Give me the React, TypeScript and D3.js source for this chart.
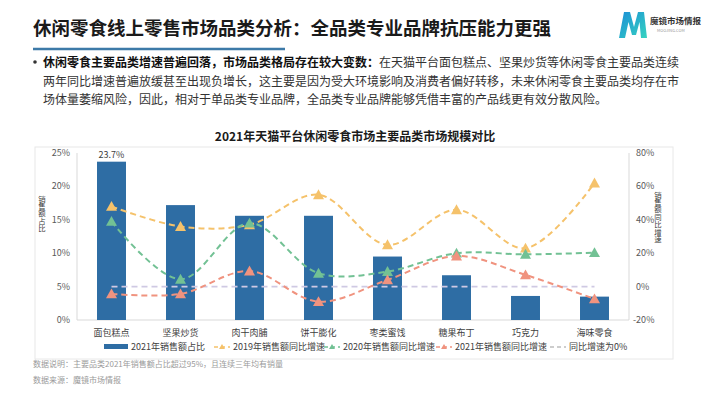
import React from "react";
import * as d3 from "d3";

// chart values
const categories = ["面包糕点", "坚果炒货", "肉干肉脯", "饼干膨化", "枣类蜜饯", "糖果布丁", "巧克力", "海味零食"];
const share2021 = [23.7, 17.2, 15.6, 15.6, 9.5, 6.7, 3.6, 3.5];
const growth2019 = [48, 36, 37, 55, 25, 46, 23, 62];
const growth2020 = [39, 4.4, 38, 8, 9, 20, 19.3, 20.3];
const growth2021 = [-4.4, -4.4, 9.3, -9, 4, 18.3, 7, -7.4];
const leftTicks = [0, 5, 10, 15, 20, 25];
const rightTicks = [-20, 0, 20, 40, 60, 80];

const lineSeries = [
  { name: "2019年销售额同比增速", values: growth2019, color: "#f5c26b" },
  { name: "2020年销售额同比增速", values: growth2020, color: "#72c194" },
  { name: "2021年销售额同比增速", values: growth2021, color: "#f0937f" },
];

const FONT = "'Noto Sans CJK SC', 'Noto Sans', sans-serif";

function Triangle({ x, y, color }: { x: number; y: number; color: string }) {
  const s = 5.5;
  return <path d={`M${x},${y - s}L${x + s},${y + s * 0.8}L${x - s},${y + s * 0.8}Z`} fill={color} />;
}

// upright vertical label, one text element
function VerticalLabel({ x, y, label }: { x: number; y: number; label: string }) {
  return (
    <text
      x={x}
      y={y}
      fontSize={7.4}
      fill="#404040"
      style={{ writingMode: "vertical-rl", textOrientation: "upright" } as any}
    >
      {label}
    </text>
  );
}

export default function App() {
  const width = 710;
  const height = 399;
  const plot = { left: 77, right: 629, top: 153, bottom: 320 };

  const x = d3.scaleBand().domain(categories).range([plot.left, plot.right]).paddingInner(0.58).paddingOuter(0.29);
  const yL = d3.scaleLinear().domain([0, 25]).range([plot.bottom, plot.top]);
  const yR = d3.scaleLinear().domain([-20, 80]).range([plot.bottom, plot.top]);
  const cx = (c: string) => (x(c) as number) + x.bandwidth() / 2;

  const line = d3
    .line<number>()
    .x((_, i) => cx(categories[i]))
    .y((d) => yR(d))
    .curve(d3.curveCatmullRom.alpha(0.5));

  // legend layout
  const legendY = 347;
  const legendItems = [
    { kind: "bar", name: "2021年销售额占比", x: 104, color: "#2e6da4" },
    { kind: "line", name: lineSeries[0].name, x: 214, color: lineSeries[0].color },
    { kind: "line", name: lineSeries[1].name, x: 324, color: lineSeries[1].color },
    { kind: "line", name: lineSeries[2].name, x: 436, color: lineSeries[2].color },
    { kind: "zero", name: "同比增速为0%", x: 550, color: "#cfc9e3" },
  ];

  return (
    <svg
      width={width}
      height={height}
      style={{ position: "absolute", left: 0, top: 0, background: "#fff" }}
      fontFamily={FONT}
    >
      <defs>
        <linearGradient id="logoGrad" x1="0" y1="0" x2="1" y2="1">
          <stop offset="0%" stopColor="#1b8fd6" />
          <stop offset="100%" stopColor="#36d3c0" />
        </linearGradient>
      </defs>

      {/* header */}
      <text x={33} y={35} fontSize={18.5} fontWeight={700} fill="#1a1a1a">
        休闲零食线上零售市场品类分析：全品类专业品牌抗压能力更强
      </text>
      <line x1={33} x2={285} y1={49} y2={49} stroke="#3d7aa8" strokeWidth={2.5} />

      {/* logo */}
      <path
        d="M619,38 L624,12 L630,12 L634,27 L638,12 L644,12 L647,38 L641,38 L639.5,22 L636,35 L632,35 L628.5,22 L625,38 Z"
        fill="url(#logoGrad)"
      />
      <text x={650} y={24} fontSize={8.5} fontWeight={700} fill="#333">魔镜市场情报</text>
      <text x={657} y={32} fontSize={4} fill="#999">MOOJING.COM</text>

      {/* bullet text */}
      <circle cx={35} cy={62} r={1.8} fill="#333" />
      <text x={43} y={67} fontSize={12} fill="#333">
        <tspan fontWeight={700} fill="#111">休闲零食主要品类增速普遍回落，市场品类格局存在较大变数：</tspan>
        在天猫平台面包糕点、坚果炒货等休闲零食主要品类连续
      </text>
      <text x={43} y={86} fontSize={12} fill="#333">
        两年同比增速普遍放缓甚至出现负增长，这主要是因为受大环境影响及消费者偏好转移，未来休闲零食主要品类均存在市
      </text>
      <text x={43} y={104} fontSize={12} fill="#333">
        场体量萎缩风险，因此，相对于单品类专业品牌，全品类专业品牌能够凭借丰富的产品线更有效分散风险。
      </text>

      {/* chart frame */}
      <rect x={35} y={147} width={638} height={212} fill="none" stroke="#e8e8e8" strokeWidth={1} />
      <text x={355} y={141} fontSize={12} fontWeight={700} fill="#1a1a1a" textAnchor="middle">
        2021年天猫平台休闲零食市场主要品类市场规模对比
      </text>

      {/* axes */}
      <line x1={plot.left} x2={plot.left} y1={plot.top} y2={plot.bottom} stroke="#d9d9d9" />
      <line x1={plot.right} x2={plot.right} y1={plot.top} y2={plot.bottom} stroke="#d9d9d9" />
      <line x1={plot.left} x2={plot.right} y1={plot.bottom} y2={plot.bottom} stroke="#d9d9d9" />
      {leftTicks.map((t) => (
        <text key={"l" + t} x={70} y={yL(t) + 3} fontSize={9} fill="#595959" textAnchor="end">
          {t}%
        </text>
      ))}
      {rightTicks.map((t) => (
        <text key={"r" + t} x={t < 0 ? 633 : 636} y={yR(t) + 3} fontSize={9} fill="#595959">
          {t}%
        </text>
      ))}
      <VerticalLabel x={42} y={195} label="销售额占比" />
      <VerticalLabel x={658} y={191} label="销售额同比增速" />
      {categories.map((c) => (
        <text key={"c" + c} x={cx(c)} y={336} fontSize={9} fill="#404040" textAnchor="middle">
          {c}
        </text>
      ))}

      {/* bars */}
      {categories.map((c, i) => (
        <rect
          key={"b" + c}
          x={x(c)}
          y={yL(share2021[i])}
          width={x.bandwidth()}
          height={plot.bottom - yL(share2021[i])}
          fill="#2e6da4"
        />
      ))}
      <text x={cx(categories[0])} y={yL(share2021[0]) - 4} fontSize={9} fill="#404040" textAnchor="middle">
        {share2021[0]}%
      </text>

      {/* zero growth line */}
      <line
        x1={cx(categories[0])}
        x2={cx(categories[categories.length - 1])}
        y1={yR(0)}
        y2={yR(0)}
        stroke="#cfc9e3"
        strokeWidth={1.8}
        strokeDasharray="6,4"
      />

      {/* growth lines */}
      {lineSeries.map((s) => (
        <g key={s.name}>
          <path d={line(s.values) || ""} fill="none" stroke={s.color} strokeWidth={2} strokeDasharray="6,4" />
          {s.values.map((v, i) => (
            <Triangle key={i} x={cx(categories[i])} y={yR(v)} color={s.color} />
          ))}
        </g>
      ))}

      {/* legend */}
      {legendItems.map((it) => (
        <g key={it.name}>
          {it.kind === "bar" && <rect x={it.x} y={legendY - 3} width={24} height={5} fill={it.color} />}
          {it.kind === "line" && (
            <g>
              <line x1={it.x} x2={it.x + 16} y1={legendY} y2={legendY} stroke={it.color} strokeWidth={1.5} strokeDasharray="4,3" />
              <path d={`M${it.x + 8},${legendY - 3}L${it.x + 11},${legendY + 2}L${it.x + 5},${legendY + 2}Z`} fill={it.color} />
            </g>
          )}
          {it.kind === "zero" && (
            <line x1={it.x} x2={it.x + 16} y1={legendY} y2={legendY} stroke="#bdbdbd" strokeWidth={1.5} strokeDasharray="4,3" />
          )}
          <text x={it.x + (it.kind === "bar" ? 27 : 19)} y={legendY + 3} fontSize={9} fill="#404040">
            {it.name}
          </text>
        </g>
      ))}

      {/* footnotes */}
      <text x={33} y={367} fontSize={8} fill="#9a9a9a">
        数据说明：主要品类2021年销售额占比超过95%，且连续三年均有销量
      </text>
      <text x={33} y={383} fontSize={8} fill="#9a9a9a">
        数据来源：魔镜市场情报
      </text>
    </svg>
  );
}
